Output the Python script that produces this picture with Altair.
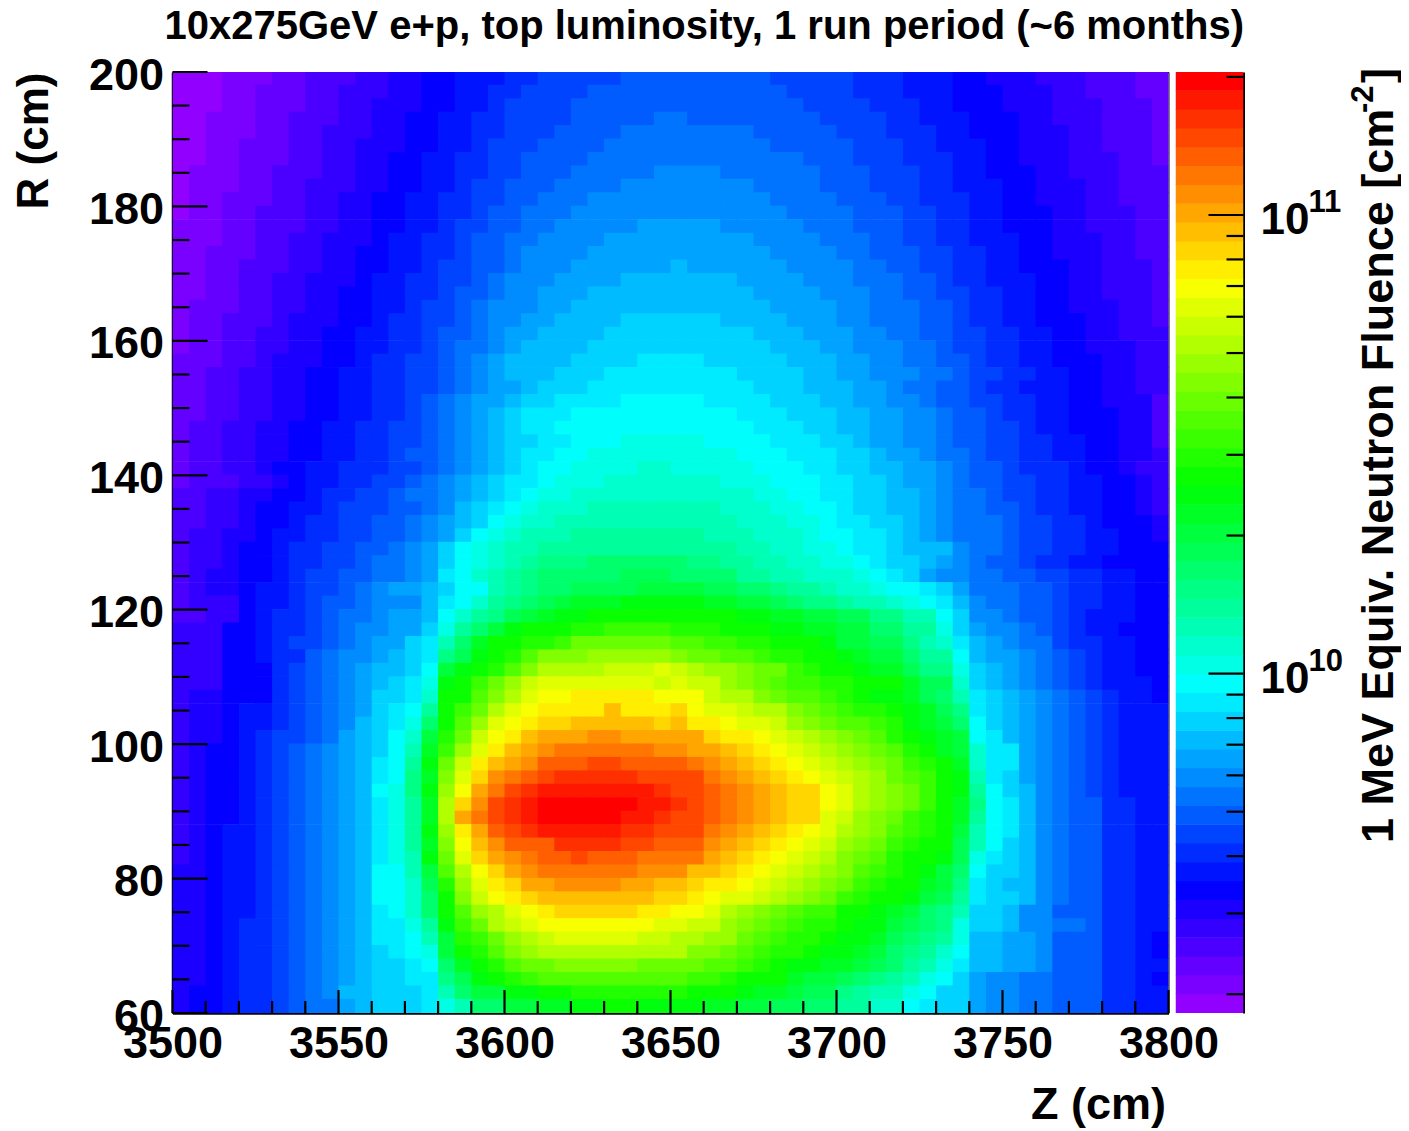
import colorsys
import altair as alt
import pandas as pd

TITLE = "10x275GeV e+p, top luminosity, 1 run period (~6 months)"
FONT = "Liberation Sans"
Z_MIN, Z_MAX = 1.82e9, 2.05e11
N_LEVELS = 50

# colour level of every cell, one list per row from R=198-200 down to R=60-62,
# written as level, end-column pairs (60 columns of 5 cm)
LEVEL_RUNS = [
[0,3,1,6,2,8,3,11,4,13,5,15,6,17,7,20,8,22,9,27,10,36,9,41,8,44,7,47,6,49,5,52,4,55,3,58,2,60],
[0,3,1,5,2,8,3,10,4,13,5,15,6,17,7,19,8,21,9,25,10,37,9,41,8,44,7,47,6,50,5,53,4,55,3,58,2,60],
[0,3,1,5,2,8,3,10,4,12,5,15,6,17,7,19,8,20,9,24,10,38,9,42,8,45,7,47,6,50,5,53,4,56,3,59,2,60],
[0,2,1,5,2,7,3,10,4,12,5,14,6,16,7,18,8,20,9,24,10,29,11,31,10,39,9,43,8,45,7,48,6,51,5,53,4,56,3,59,2,60],
[0,2,1,5,2,7,3,9,4,12,5,14,6,16,7,18,8,20,9,23,10,27,11,35,10,40,9,43,8,46,7,48,6,51,5,54,4,56,3,59,2,60],
[0,2,1,4,2,7,3,9,4,11,5,14,6,16,7,18,8,19,9,22,10,26,11,36,10,41,9,44,8,46,7,49,6,51,5,54,4,56,3,59,2,60],
[0,2,1,4,2,7,3,9,4,11,5,13,6,15,7,17,8,19,9,21,10,25,11,38,10,41,9,44,8,47,7,49,6,51,5,54,4,57,3,59,2,60],
[0,1,1,4,2,6,3,9,4,11,5,13,6,15,7,17,8,19,9,21,10,24,11,29,12,33,11,39,10,42,9,45,8,47,7,49,6,52,5,54,4,57,3,60],
[0,1,1,4,2,6,3,8,4,11,5,13,6,15,7,17,8,18,9,20,10,23,11,27,12,35,11,39,10,42,9,45,8,47,7,50,6,52,5,55,4,57,3,60],
[0,1,1,3,2,6,3,8,4,10,5,12,6,14,7,16,8,18,9,20,10,22,11,25,12,36,11,40,10,43,9,45,8,48,7,50,6,52,5,55,4,57,3,60],
[0,1,1,3,2,5,3,8,4,10,5,12,6,14,7,16,8,18,9,19,10,21,11,24,12,37,11,41,10,44,9,46,8,48,7,50,6,53,5,55,4,58,3,60],
[1,3,2,5,3,8,4,10,5,12,6,14,7,16,8,17,9,19,10,21,11,23,12,28,13,33,12,38,11,41,10,44,9,46,8,48,7,50,6,53,5,55,4,58,3,60],
[1,3,2,5,3,7,4,9,5,12,6,13,7,15,8,17,9,18,10,20,11,22,12,26,13,35,12,39,11,42,10,44,9,46,8,48,7,51,6,53,5,56,4,58,3,60],
[1,2,2,5,3,7,4,9,5,11,6,13,7,15,8,17,9,18,10,20,11,21,12,25,13,36,12,40,11,42,10,45,9,47,8,49,7,51,6,53,5,56,4,58,3,60],
[1,2,2,4,3,7,4,9,5,11,6,13,7,15,8,16,9,18,10,20,11,21,12,24,13,30,14,31,13,37,12,41,11,43,10,45,9,47,8,49,7,51,6,54,5,56,4,59,3,60],
[1,2,2,4,3,6,4,8,5,11,6,12,7,14,8,16,9,18,10,19,11,20,12,23,13,27,14,34,13,38,12,41,11,44,10,46,9,47,8,49,7,52,6,54,5,56,4,59,3,60],
[1,2,2,4,3,6,4,8,5,10,6,12,7,14,8,16,9,17,10,19,11,20,12,22,13,25,14,35,13,39,12,42,11,44,10,46,9,48,8,50,7,52,6,54,5,56,4,59,3,60],
[1,1,2,4,3,6,4,8,5,10,6,12,7,14,8,15,9,17,10,18,11,19,12,22,13,24,14,36,13,40,12,42,11,45,10,47,9,48,8,50,7,52,6,54,5,57,4,59,3,60],
[1,1,2,3,3,6,4,7,5,10,6,12,7,13,8,15,9,17,10,18,11,19,12,21,13,23,14,27,15,33,14,37,13,40,12,42,11,45,10,47,9,48,8,50,7,52,6,55,5,57,4,59,3,60],
[1,1,2,3,3,5,4,7,5,9,6,11,7,13,8,15,9,16,10,18,11,19,12,20,13,22,14,26,15,35,14,38,13,41,12,43,11,45,10,47,9,49,8,51,7,53,6,55,5,57,4,60],
[1,1,2,3,3,5,4,7,5,9,6,11,7,13,8,15,9,16,10,17,11,19,12,20,13,21,14,25,15,36,14,39,13,41,12,44,11,46,10,47,9,49,8,51,7,53,6,55,5,58,4,60],
[2,3,3,5,4,6,5,9,6,11,7,12,8,14,9,16,10,17,11,18,12,19,13,20,14,24,15,28,16,32,15,37,14,40,13,42,12,44,11,46,10,48,9,49,8,51,7,53,6,56,5,58,4,60],
[2,2,3,4,4,6,5,8,6,10,7,12,8,14,9,16,10,17,11,18,12,19,13,20,14,23,15,26,16,34,15,38,14,40,13,42,12,45,11,47,10,48,9,50,8,52,7,54,6,56,5,58,4,60],
[2,2,3,4,4,6,5,8,6,10,7,12,8,14,9,16,10,17,11,18,12,19,13,21,14,22,15,25,16,35,15,38,14,41,13,43,12,44,11,46,10,48,9,49,8,51,7,54,6,56,5,58,4,60],
[2,2,3,4,4,6,5,8,6,10,7,12,8,14,9,15,10,16,11,17,12,18,13,20,14,21,15,23,16,27,17,32,16,36,15,39,14,41,13,43,12,45,11,46,10,48,9,50,8,52,7,54,6,56,5,59,3,60],
[2,2,3,4,4,6,5,8,6,10,7,12,8,14,9,15,10,16,11,17,12,18,13,19,14,20,15,21,16,24,17,34,16,37,15,40,14,42,13,44,12,46,11,47,10,49,9,50,8,52,7,54,6,57,5,59,3,60],
[2,1,3,3,4,5,5,7,6,9,7,11,8,13,9,15,10,16,11,17,12,18,13,19,14,20,15,21,16,23,17,35,16,38,15,40,14,42,13,44,12,46,11,47,10,49,9,51,8,52,7,54,6,57,5,59,3,60],
[2,1,3,3,4,5,5,7,6,9,7,11,8,13,9,15,10,16,11,17,12,18,13,19,14,20,15,22,16,24,17,27,18,32,17,36,16,39,15,41,14,42,13,44,12,46,11,47,10,49,9,51,8,53,7,55,6,57,5,59,3,60],
[2,1,3,3,4,5,5,7,6,9,7,11,8,13,9,14,10,16,11,17,12,18,13,19,14,20,15,21,16,23,17,25,18,34,17,37,16,40,15,42,14,43,13,45,12,46,11,48,10,49,9,51,8,53,7,55,6,57,5,59,4,60],
[2,1,3,3,4,5,5,6,6,8,7,10,8,13,9,15,10,16,11,17,12,18,13,19,14,20,15,21,16,22,17,24,18,28,19,30,18,35,17,38,16,40,15,42,14,44,13,46,12,47,11,48,10,50,9,51,8,54,7,55,6,57,5,58,4,60],
[2,1,3,4,4,6,5,7,6,8,7,10,8,12,9,14,10,15,11,16,12,17,13,18,14,19,15,20,16,22,17,23,18,26,19,33,18,36,17,39,16,41,15,43,14,44,13,46,12,47,11,48,10,50,9,52,8,54,7,56,6,58,5,59,4,60],
[3,2,4,4,5,6,6,8,7,9,8,11,9,13,10,14,11,16,12,17,13,18,14,19,15,20,16,21,17,22,18,24,19,35,18,37,17,39,16,41,15,43,14,45,13,46,12,47,11,49,10,50,9,52,8,54,7,56,6,58,5,59,4,60],
[3,2,4,4,5,5,6,7,7,9,8,10,9,13,10,15,11,16,12,17,14,18,15,19,16,20,17,21,18,22,19,25,20,33,19,36,18,38,17,40,16,41,15,43,14,45,13,46,12,47,11,49,10,51,9,52,8,54,7,56,6,58,5,59,4,60],
[3,2,4,4,5,5,6,7,7,8,8,10,9,12,10,14,11,15,12,16,13,17,14,18,15,19,17,20,18,21,19,23,20,34,19,37,18,39,17,40,16,42,15,44,14,45,13,46,12,47,11,50,10,51,9,53,8,55,7,56,6,59,5,60],
[3,1,4,3,5,5,6,6,7,8,8,10,9,12,10,14,11,15,12,16,13,17,15,18,17,19,18,20,19,21,20,24,21,32,20,35,19,38,18,39,17,41,16,43,15,44,14,45,13,46,12,47,11,50,10,51,9,53,8,55,7,57,6,59,5,60],
[3,1,4,3,5,4,6,6,7,7,8,9,9,11,10,13,11,14,12,15,13,16,15,17,17,18,18,19,19,20,20,22,21,34,20,36,19,38,18,40,17,41,16,43,15,44,14,47,12,48,11,50,10,51,9,53,8,55,7,57,6,60],
[3,1,4,3,5,4,6,6,7,7,8,9,9,11,10,12,11,14,12,15,13,16,15,17,17,18,18,19,19,20,20,21,21,22,22,25,23,31,22,33,21,35,20,37,19,39,18,41,17,42,16,43,15,45,14,46,13,47,12,48,11,49,10,51,9,52,8,54,7,56,6,60],
[3,1,4,2,5,4,6,6,7,7,8,8,9,10,10,12,11,14,12,15,13,16,14,16,16,17,17,18,19,19,20,20,21,21,22,22,23,27,24,30,23,34,21,36,20,38,19,41,18,42,17,43,16,44,15,45,13,46,12,48,11,50,10,52,9,54,8,56,7,58,6,60],
[3,1,4,2,5,4,6,5,7,7,8,8,9,10,10,11,11,12,12,13,13,15,14,16,15,17,17,19,20,20,21,21,22,22,23,24,24,28,25,32,24,34,23,36,22,37,21,39,20,40,19,42,18,43,17,45,16,46,15,47,13,48,11,51,10,53,9,54,8,56,7,58,6,60],
[3,1,4,4,6,5,7,7,8,8,9,9,10,11,11,12,12,15,14,16,16,17,17,18,19,19,21,20,22,21,23,22,24,23,25,24,26,27,27,32,26,34,25,36,24,37,23,38,22,40,21,41,20,43,19,44,18,45,17,46,16,47,14,48,12,49,11,51,10,53,9,54,8,56,7,58,6,60],
[3,2,4,4,6,5,7,6,8,8,9,9,10,10,11,12,12,13,13,15,14,16,17,17,19,18,21,19,22,20,24,21,25,22,26,23,27,25,28,34,27,36,26,38,25,40,24,42,22,44,20,46,17,47,15,48,12,50,11,51,10,53,9,54,8,55,7,58,6,60],
[4,3,6,5,7,6,8,8,9,9,10,10,11,11,12,13,13,15,15,16,18,17,21,18,23,19,25,20,27,21,28,24,29,26,30,30,29,33,28,36,27,38,26,40,25,42,23,44,21,46,18,47,15,48,13,49,12,51,11,52,10,53,9,54,8,55,7,57,6,60],
[4,3,6,5,7,6,8,7,9,9,10,10,11,11,12,12,13,14,15,15,16,16,20,17,23,18,26,19,28,21,29,23,30,24,32,30,31,32,30,34,29,36,28,39,27,40,25,42,24,44,22,45,20,46,19,47,16,48,14,49,13,50,12,51,11,53,9,54,8,56,7,58,6,60],
[4,3,6,5,7,6,8,8,10,9,11,10,12,12,13,13,14,14,15,15,16,16,22,17,24,18,27,19,28,20,29,21,31,22,33,25,34,30,33,31,32,33,31,35,30,36,29,38,28,40,27,41,26,42,25,44,23,45,21,46,21,47,17,48,14,49,13,51,12,52,11,53,10,54,9,55,8,56,7,58,6,60],
[4,3,6,6,8,7,9,8,10,9,11,10,12,11,13,12,14,14,15,15,17,16,25,17,27,18,28,19,29,20,31,21,33,22,35,26,36,29,37,30,36,31,35,32,34,34,33,35,32,37,30,38,29,39,28,41,27,42,26,44,24,45,22,46,22,47,18,48,15,49,14,50,13,51,12,52,11,53,10,54,9,55,8,56,7,58,6,60],
[4,3,6,6,8,7,9,8,10,9,11,10,12,11,13,12,14,13,15,14,16,15,18,16,27,17,28,18,30,19,32,20,34,21,36,22,37,29,36,30,37,31,36,33,34,34,33,35,32,36,31,37,30,39,29,41,28,44,26,45,24,46,24,47,19,48,15,49,14,50,13,51,12,52,11,53,10,54,9,55,8,56,7,59,6,60],
[4,1,5,3,6,6,8,7,9,8,10,9,11,10,12,11,13,12,15,14,16,15,19,16,28,18,31,19,33,20,35,21,37,22,38,24,39,29,38,32,36,33,35,35,33,36,32,37,31,39,30,40,29,41,28,42,27,44,26,45,24,46,23,47,20,48,16,49,15,50,14,51,13,52,12,53,11,54,10,55,9,56,8,57,7,59,6,60],
[4,1,5,3,6,4,7,6,8,7,9,8,10,9,11,10,12,11,13,12,15,13,16,14,17,15,21,16,28,17,30,18,32,19,35,20,37,21,38,22,39,26,41,27,39,30,40,31,38,32,37,34,36,35,35,37,33,38,32,39,31,40,30,41,29,43,28,44,27,45,26,46,24,47,22,48,16,49,15,50,14,51,13,52,12,53,11,54,10,55,9,56,8,57,7,60],
[4,1,5,3,6,4,7,6,8,7,9,8,10,9,11,10,12,11,14,12,15,13,16,14,18,15,23,16,28,17,31,18,34,19,37,20,38,21,39,22,40,24,41,29,40,30,41,31,39,33,38,34,37,36,36,37,34,38,33,39,32,40,31,42,30,43,29,44,27,45,26,46,25,47,23,48,17,49,15,50,14,51,13,52,12,53,11,54,10,55,9,56,8,57,7,60],
[4,1,5,3,6,4,7,5,8,6,9,8,10,9,11,10,13,11,14,12,15,13,17,14,19,15,25,16,29,17,32,18,36,19,38,20,39,21,41,22,42,25,43,27,42,32,40,33,39,35,38,36,37,37,36,38,35,39,34,40,33,41,32,42,31,43,29,44,28,45,27,46,26,47,25,48,17,49,16,50,14,51,13,52,12,53,11,54,10,55,9,56,8,57,7,60],
[4,1,5,2,6,4,7,5,8,6,9,7,10,8,11,9,12,10,13,11,14,12,15,13,17,14,20,15,26,16,30,17,34,18,37,19,39,20,41,21,42,22,43,23,44,29,43,31,42,33,41,34,40,35,39,36,38,37,37,38,36,39,35,40,34,41,33,42,32,43,31,44,29,45,28,46,26,47,25,48,19,49,16,51,13,52,12,53,11,54,10,55,9,56,8,57,7,60],
[4,1,5,2,6,4,7,5,8,6,9,7,10,8,11,9,12,10,13,11,14,12,16,13,17,14,21,15,27,16,32,17,36,18,39,19,41,20,42,21,43,22,45,25,46,27,45,31,44,32,43,33,42,34,41,35,40,36,39,37,38,38,37,39,36,40,35,41,34,42,33,43,32,44,30,45,29,46,28,47,26,48,19,49,16,51,13,52,12,53,11,54,10,55,9,56,8,57,7,60],
[4,1,5,2,6,4,7,5,8,6,9,7,10,8,11,9,12,10,13,11,14,12,16,13,17,14,22,15,26,16,33,17,37,18,40,19,43,20,44,21,45,22,46,23,47,28,46,32,44,33,43,34,42,35,41,36,40,37,39,38,38,39,37,40,36,41,35,42,34,43,32,44,31,45,30,46,28,47,27,48,20,49,16,50,15,51,13,52,12,53,11,54,10,55,9,56,8,57,7,60],
[4,1,5,2,6,4,7,5,8,6,9,7,10,8,11,9,12,10,13,11,14,12,17,13,18,14,22,15,27,16,34,17,38,18,42,19,44,20,46,21,47,22,48,29,47,30,46,32,45,33,44,34,43,35,42,36,41,37,40,39,38,40,37,41,35,42,34,43,33,44,32,45,30,46,28,47,27,48,21,49,17,50,15,51,14,52,12,53,11,54,10,55,9,56,8,57,7,60],
[4,1,5,2,6,4,7,5,8,6,9,7,10,8,11,9,12,10,13,11,14,12,16,13,18,14,21,15,26,16,35,17,40,18,43,19,46,20,47,21,48,22,49,28,48,30,47,31,46,32,45,33,44,34,43,35,42,36,41,37,40,39,38,40,37,41,35,42,34,43,33,44,32,45,30,46,28,47,26,48,22,49,17,50,16,51,14,52,12,53,11,54,10,56,8,58,7,60],
[4,1,5,2,6,4,7,5,8,6,9,7,10,8,11,9,12,10,13,11,14,12,16,13,18,14,21,15,26,16,35,17,42,18,44,19,46,20,47,21,48,22,49,27,48,29,47,30,46,32,45,33,44,34,43,35,42,36,41,37,40,39,37,40,36,41,34,42,33,43,32,44,30,45,29,46,28,47,26,48,21,49,17,50,16,51,14,52,12,53,11,54,10,56,8,58,7,60],
[4,1,5,2,6,3,7,5,8,6,9,7,10,8,11,9,12,10,13,11,14,12,16,13,18,14,21,15,27,16,34,17,39,18,42,19,45,20,46,21,47,22,48,27,47,29,46,32,44,33,43,34,42,35,41,36,40,37,39,38,38,39,37,40,35,41,34,42,33,43,31,44,30,45,29,46,28,47,25,48,20,49,17,50,16,51,14,52,12,53,11,54,10,56,8,58,7,60],
[4,1,5,2,6,3,7,5,8,6,9,7,10,8,11,9,12,10,13,11,14,12,16,13,18,14,21,15,26,16,33,17,38,18,41,19,43,20,45,23,47,27,46,29,45,32,43,33,42,34,41,35,40,36,39,37,38,38,37,39,36,40,34,41,33,42,32,43,30,44,29,45,28,47,24,48,20,49,17,50,15,51,14,52,12,53,11,54,10,56,8,58,7,60],
[4,1,5,2,6,3,7,5,8,6,9,7,10,8,11,9,12,10,13,11,14,12,16,13,18,14,20,15,27,16,32,17,37,18,40,19,42,20,43,21,44,22,45,24,46,25,45,28,44,32,42,33,41,34,40,35,39,36,38,37,37,38,36,39,35,40,33,41,32,42,31,43,29,44,28,46,27,47,24,48,18,49,16,50,15,51,14,52,12,53,11,54,10,56,8,58,7,60],
[5,2,6,3,7,5,8,6,9,7,10,8,11,9,12,10,13,11,14,12,17,14,20,15,25,16,31,17,35,18,38,19,40,20,42,21,43,22,44,28,43,31,41,33,40,34,39,35,38,36,37,37,36,38,35,39,34,40,33,41,31,42,30,43,29,44,28,45,27,46,25,47,23,48,17,49,15,51,14,52,12,53,11,54,10,56,8,58,7,60],
[5,2,6,3,7,5,8,6,9,7,10,8,11,9,12,10,13,11,14,12,17,14,19,15,24,16,29,17,34,18,37,19,39,20,40,21,42,23,43,27,42,29,41,31,40,32,39,34,38,35,37,36,36,37,35,38,34,39,33,40,32,41,30,42,29,43,28,45,26,46,25,47,22,48,16,49,15,50,14,52,12,53,11,54,10,56,8,58,7,60],
[5,2,6,3,7,5,8,6,9,7,10,8,11,9,12,10,13,11,14,12,17,14,19,15,23,16,28,17,33,18,36,19,38,20,39,21,40,22,41,29,40,31,39,32,38,33,37,35,36,36,35,37,34,38,33,39,32,40,30,41,29,42,28,44,27,45,25,46,24,47,21,48,16,49,15,51,14,52,12,53,11,54,10,56,8,58,7,60],
[5,2,6,3,7,5,8,6,9,7,10,8,11,9,12,10,13,11,14,12,16,13,17,14,19,15,23,16,28,17,31,18,34,19,35,20,37,21,38,22,39,23,40,28,39,30,38,32,37,33,35,34,34,35,33,36,32,37,31,38,30,40,28,42,27,43,26,44,25,45,23,46,22,47,20,48,15,50,14,51,12,53,10,56,8,58,7,60],
[5,2,6,3,7,4,8,6,9,7,10,8,11,9,12,10,13,11,14,12,16,14,18,15,21,16,27,17,30,18,32,19,35,20,36,21,37,22,38,29,37,31,36,33,34,34,33,35,32,36,31,37,30,38,29,40,28,41,27,43,25,44,24,45,23,46,22,47,18,48,15,50,14,51,12,53,11,55,10,56,8,58,7,60],
[5,2,6,3,7,4,8,6,9,7,10,8,11,9,12,10,13,11,14,12,16,14,17,15,20,16,25,17,29,18,30,19,32,20,34,21,35,22,36,23,37,28,36,30,35,32,34,34,32,35,31,36,30,37,29,39,28,40,27,42,26,43,24,44,23,45,22,46,21,47,18,48,14,50,13,52,12,53,10,56,8,58,7,59,6,60],
[5,2,6,3,7,4,8,6,9,7,10,8,11,9,12,10,13,11,14,12,15,13,16,14,17,15,18,16,25,17,28,18,29,19,31,20,33,21,34,22,35,31,33,33,32,34,31,35,30,36,29,38,28,39,27,41,26,42,25,43,23,44,22,45,21,46,19,47,17,48,14,50,13,52,12,53,10,56,8,58,7,59,6,60],
[5,2,6,3,7,4,8,6,9,7,10,8,11,9,12,10,13,11,14,12,15,14,16,15,17,16,23,17,26,18,28,19,29,20,31,21,32,23,33,28,32,32,31,34,30,35,29,36,28,37,27,39,26,41,25,42,24,43,23,44,21,45,20,46,18,47,16,48,14,50,13,52,12,53,10,56,8,58,7,60],
[5,2,6,3,7,4,8,6,9,7,10,8,11,9,12,10,13,11,14,12,15,14,16,16,22,17,24,18,27,19,28,20,29,21,30,22,31,31,30,33,29,34,28,37,26,38,25,40,24,41,23,42,22,43,21,44,20,45,18,46,17,47,15,48,13,49,12,51,11,53,10,56,8,58,7,59,6,60],
[5,1,6,3,7,4,8,6,9,7,10,8,11,9,12,10,14,12,15,15,16,16,20,17,23,18,25,20,27,22,28,24,29,31,28,34,27,35,26,37,25,38,24,40,22,41,21,42,20,44,18,45,17,46,15,48,13,49,12,51,11,53,10,56,8,58,7,60],
[5,1,6,3,7,4,8,6,9,7,10,8,11,10,13,11,14,12,15,15,16,16,18,17,20,18,23,20,25,22,26,24,27,26,28,28,27,32,26,34,25,36,24,38,23,40,21,42,19,44,17,45,16,46,15,48,13,49,12,51,11,53,10,56,8,58,7,60],
]

X_MAJOR = [3500, 3550, 3600, 3650, 3700, 3750, 3800]
X_MINOR = [3510, 3520, 3530, 3540, 3560, 3570, 3580, 3590, 3610, 3620, 3630, 3640,
           3660, 3670, 3680, 3690, 3710, 3720, 3730, 3740, 3760, 3770, 3780, 3790]
Y_MAJOR = [60, 80, 100, 120, 140, 160, 180, 200]
Y_MINOR = [65, 70, 75, 85, 90, 95, 105, 110, 115, 125, 130, 135, 145, 150, 155,
           165, 170, 175, 185, 190, 195]
Z_MAJOR = [1e10, 1e11]
Z_MINOR = [2e9, 3e9, 4e9, 5e9, 6e9, 7e9, 8e9, 9e9, 2e10, 3e10, 4e10, 5e10, 6e10,
           7e10, 8e10, 9e10, 2e11]
Z_LABELS = ["10", "10"]
Z_EXPONENTS = ["10", "11"]

PALETTE = []
for i in range(N_LEVELS):
    r, g, b = colorsys.hls_to_rgb((280 - (i + 1) * 5.6) / 360, 0.5, 1.0)
    PALETTE.append("#%02x%02x%02x" % (round(r * 255), round(g * 255), round(b * 255)))

cells = []
for row_index, runs in enumerate(LEVEL_RUNS):
    r_low = 198 - 2 * row_index
    start = 0
    for k in range(0, len(runs), 2):
        for col in range(start, runs[k + 1]):
            # each cell reaches slightly under the next one so no hairline shows between cells
            cells.append({"z": 3500 + 5 * col, "z2": 3505.25 + 5 * col,
                          "r": r_low, "r2": r_low + 2.1, "level": runs[k]})
        start = max(start, runs[k + 1])
cells = pd.DataFrame(cells)

W, H = 996, 941
x_scale = alt.Scale(domain=[3500, 3800], nice=False)
y_scale = alt.Scale(domain=[60, 200], nice=False)
color_scale = alt.Scale(domain=list(range(N_LEVELS)), range=PALETTE)
TICK_W = 2.2

x_axis = alt.Axis(
    values=X_MAJOR, format="d", ticks=False, grid=False, title="Z (cm)",
    titleAnchor="end", titleX=993, titleAlign="right",
    labelFontSize=45, labelFont=FONT, labelFontWeight="bold", labelColor="black",
    labelPadding=8, labelOverlap=False, labelFlush=False, labelBound=False,
    titleFontSize=45, titleFont=FONT, titleFontWeight="bold", titleColor="black",
    titlePadding=16, domainColor="black", domainWidth=2.5)
y_axis = alt.Axis(
    values=Y_MAJOR, format="d", ticks=False, grid=False, title="R (cm)", titleAnchor="end",
    labelFontSize=45, labelFont=FONT, labelFontWeight="bold", labelColor="black",
    labelPadding=9, labelOverlap=False, labelFlush=False, labelBound=False, labelOffset=3,
    titleFontSize=44, titleFont=FONT, titleFontWeight="bold", titleColor="black",
    titlePadding=32, domainColor="black", domainWidth=2.5)

heat = alt.Chart(cells).mark_rect(clip=True).encode(
    x=alt.X("z:Q", scale=x_scale, axis=x_axis),
    x2="z2:Q",
    y=alt.Y("r:Q", scale=y_scale, axis=y_axis),
    y2="r2:Q",
    color=alt.Color("level:O", scale=color_scale, legend=None),
)


def xticks(values, length):
    return alt.Chart(pd.DataFrame({"z": values})).mark_rule(color="black", strokeWidth=TICK_W).encode(
        x=alt.X("z:Q", scale=x_scale, axis=x_axis), y=alt.value(H), y2=alt.value(H - length))


def yticks(values, length):
    return alt.Chart(pd.DataFrame({"r": values})).mark_rule(color="black", strokeWidth=TICK_W).encode(
        y=alt.Y("r:Q", scale=y_scale, axis=y_axis), x=alt.value(0), x2=alt.value(length))


left = alt.layer(
    heat, xticks(X_MAJOR, 23), xticks(X_MINOR, 12), yticks(Y_MAJOR, 35), yticks(Y_MINOR, 17)
).properties(width=W, height=H, view=alt.ViewConfig(stroke="black", strokeWidth=1))

# colour bar
z_scale = alt.Scale(type="log", domain=[Z_MIN, Z_MAX], nice=False)
z_axis = alt.Axis(orient="right", labels=False, ticks=False, grid=False, title=None,
                  domainColor="black", domainWidth=2)
ratio = (Z_MAX / Z_MIN) ** (1 / N_LEVELS)
bar_df = pd.DataFrame({"level": list(range(N_LEVELS))})
bar_df["lo"] = [Z_MIN * ratio ** i for i in range(N_LEVELS)]
bar_df["hi"] = [Z_MIN * ratio ** (i + 1.03) for i in range(N_LEVELS)]
bar = alt.Chart(bar_df).mark_rect(clip=True).encode(
    y=alt.Y("lo:Q", scale=z_scale, axis=z_axis),
    y2="hi:Q",
    x=alt.value(0), x2=alt.value(68),
    color=alt.Color("level:O", scale=color_scale, legend=None),
)


def zticks(values, length):
    return alt.Chart(pd.DataFrame({"v": values})).mark_rule(color="black", strokeWidth=TICK_W).encode(
        y=alt.Y("v:Q", scale=z_scale, axis=z_axis), x=alt.value(68), x2=alt.value(68 - length))


tick_text = pd.DataFrame({"v": Z_MAJOR, "base": Z_LABELS, "exp": Z_EXPONENTS})
base = alt.Chart(tick_text).mark_text(font=FONT, fontWeight="bold", fontSize=44, align="left", baseline="middle", dy=6, color="black").encode(
    y=alt.Y("v:Q", scale=z_scale, axis=z_axis), x=alt.value(85), text="base:N")
exp = alt.Chart(tick_text).mark_text(font=FONT, fontWeight="bold", fontSize=31, align="left", baseline="middle", dy=-12, color="black").encode(
    y=alt.Y("v:Q", scale=z_scale, axis=z_axis), x=alt.value(133), text="exp:N")


def side_text(text, size, xpos, ypos):
    return alt.Chart(pd.DataFrame({"t": [text]})).mark_text(
        font=FONT, fontWeight="bold", fontSize=size, angle=270, align="left", baseline="middle", color="black"
    ).encode(x=alt.value(xpos), y=alt.value(ypos), text="t:N")


right = alt.layer(
    bar, zticks(Z_MAJOR, 35), zticks(Z_MINOR, 17), base, exp,
    side_text("1 MeV Equiv. Neutron Fluence [cm", 45, 203, 771),
    side_text("-2", 31, 188, 41),
    side_text("]", 45, 203, 11),
).properties(width=68, height=H, view=alt.ViewConfig(stroke="transparent"))

chart = alt.hconcat(left, right, spacing=7, bounds="flush").resolve_scale(color="independent").properties(
    title=alt.TitleParams(TITLE, font=FONT, fontWeight="bold", fontSize=40, color="black",
                          anchor="start", frame="group", offset=6, dx=-8),
    autosize=alt.AutoSizeParams(type="none"),
    padding={"left": 164.5, "top": 64, "right": 1228.5, "bottom": 1050},
)

chart.save("out.html", embed_options={"renderer": "svg", "actions": False})
